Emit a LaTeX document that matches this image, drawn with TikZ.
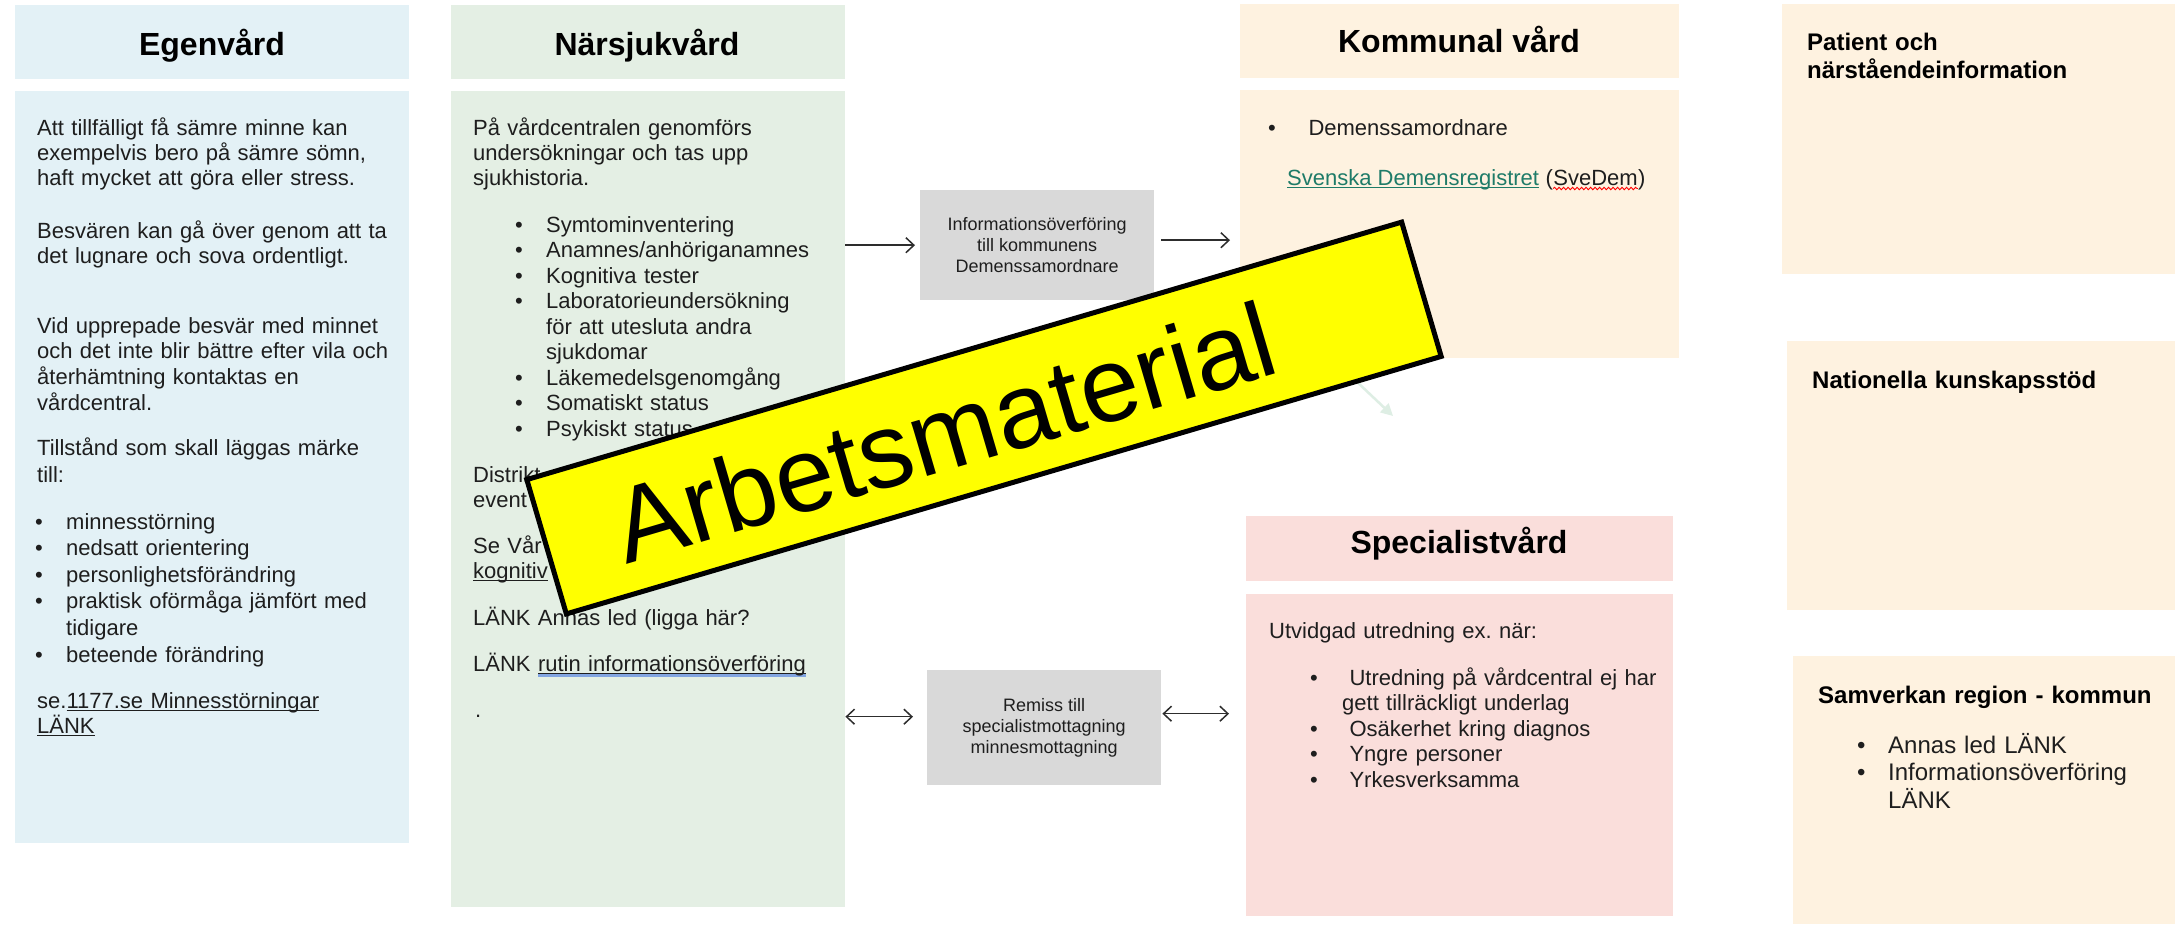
\documentclass[tikz,border=0pt]{standalone}
\usepackage{fontspec}
\setmainfont{Liberation Sans}
\usetikzlibrary{arrows.meta,calc,decorations.pathmorphing}
\definecolor{egfill}{RGB}{227,241,246}
\definecolor{nsfill}{RGB}{228,239,228}
\definecolor{kvfill}{RGB}{254,242,224}
\definecolor{spfill}{RGB}{250,222,219}
\definecolor{grayfill}{RGB}{217,217,217}
\definecolor{txt}{RGB}{30,30,30}
\definecolor{arrcol}{RGB}{45,45,45}
\definecolor{linkgreen}{RGB}{30,123,104}
\definecolor{ulblue}{RGB}{130,165,225}
\definecolor{faintcol}{RGB}{222,238,228}
\definecolor{bannery}{RGB}{255,255,0}
\newcommand\fs[2]{\fontsize{#1}{#2}\selectfont}
\newcommand\myul[2][txt]{\leavevmode\setbox0\hbox{#2}\rlap{\color{#1}\rule[-3pt]{\wd0}{1.3pt}}\box0}
\newcommand\blueul[1]{\leavevmode\setbox0\hbox{#1}\rlap{\color{ulblue}\rule[-5.5pt]{\wd0}{2.6pt}}\rlap{\color{txt}\rule[-3pt]{\wd0}{1.1pt}}\box0}
\newcommand\bl[1][31pt]{\leavevmode\makebox[#1][l]{•}}
\frenchspacing
\begin{document}
\begin{tikzpicture}[x=1pt,y=-1pt,
  panel/.style={draw=none,inner sep=0,anchor=north west},
  title/.style={inner sep=0,anchor=base,text=black,font=\fs{32}{38}\bfseries},
  tx/.style={inner sep=0,text=txt,font=\fs{22}{25}},
  para/.style={inner sep=0,text=txt,anchor=base west,text width=400pt,align=left},
  grayt/.style={panel,fill=grayfill,align=center,text=txt,font=\fs{18}{21}},
  arr/.style={draw=arrcol,line width=1.5pt,-{Straight Barb[length=8pt,width=15pt]}},
  darr/.style={draw=arrcol,line width=1.5pt,{Straight Barb[length=8pt,width=15pt]}-{Straight Barb[length=8pt,width=15pt]}}]
\fill[white] (0,0) rectangle (2175,924);
\useasboundingbox (0,0) rectangle (2175,924);

% panels
\node[panel,fill=egfill,minimum width=394,minimum height=74] (egH) at (15,5) {};
\node[panel,fill=egfill,minimum width=394,minimum height=752] (egB) at (15,91) {};
\node[panel,fill=nsfill,minimum width=394,minimum height=74] (nsH) at (451,5) {};
\node[panel,fill=nsfill,minimum width=394,minimum height=816] (nsB) at (451,91) {};
\node[panel,fill=kvfill,minimum width=439,minimum height=74] (kvH) at (1240,4) {};
\node[panel,fill=kvfill,minimum width=439,minimum height=268] (kvB) at (1240,90) {};
\node[panel,fill=spfill,minimum width=427,minimum height=65] (spH) at (1246,516) {};
\node[panel,fill=spfill,minimum width=427,minimum height=322] (spB) at (1246,594) {};
\node[panel,fill=kvfill,minimum width=393,minimum height=270] (pat) at (1782,4) {};
\node[panel,fill=kvfill,minimum width=388,minimum height=269] (nat) at (1787,341) {};
\node[panel,fill=kvfill,minimum width=382,minimum height=268] (sam) at (1793,656) {};
\node[grayt,minimum width=234,minimum height=110] (g1) at (920,190) {Informationsöverföring\\till kommunens\\Demenssamordnare};
\node[grayt,minimum width=234,minimum height=115] (g2) at (927,670) {Remiss till\\specialistmottagning\\minnesmottagning};

% titles
\node[title] (egT) at (212,55) {Egenvård};
\node[title] (nsT) at (647,55) {Närsjukvård};
\node[title] (kvT) at (1459,52) {Kommunal vård};
\node[title] (spT) at (1459,553) {Specialistvård};

% Egenvard text
\node[para,font=\fs{22}{25}] (eg1) at (37,135) {Att tillfälligt få sämre minne kan\\exempelvis bero på sämre sömn,\\haft mycket att göra eller stress.};
\node[para,font=\fs{22}{25}] (eg2) at (37,238) {Besvären kan gå över genom att ta\\det lugnare och sova ordentligt.};
\node[para,font=\fs{22}{25.7}] (eg3) at (37,333) {Vid upprepade besvär med minnet\\och det inte blir bättre efter vila och\\återhämtning kontaktas en\\vårdcentral.};
\node[para,font=\fs{22}{27}] (eg4) at (37,455) {Tillstånd som skall läggas märke\\till:};
\node[para,font=\fs{22}{26.6}] (eg5) at (35,529) {\bl minnesstörning\\\bl nedsatt orientering\\\bl personlighetsförändring\\\bl \makebox[316pt][s]{praktisk oförmåga jämfört med}\\\hspace*{31pt}tidigare\\\bl beteende förändring};
\node[para,font=\fs{22}{25}] (eg6) at (37,708) {se.\myul{1177.se Minnesstörningar}\\\myul{LÄNK}};

% Narsjukvard text
\node[para,font=\fs{22}{25}] (ns1) at (473,135) {På vårdcentralen genomförs\\undersökningar och tas upp\\sjukhistoria.};
\node[para,font=\fs{22}{25.5}] (ns2) at (515,232) {\bl Symtominventering\\\bl Anamnes/anhöriganamnes\\\bl Kognitiva tester\\\bl Laboratorieundersökning\\\hspace*{31pt}för att utesluta andra\\\hspace*{31pt}sjukdomar\\\bl Läkemedelsgenomgång\\\bl Somatiskt status\\\bl Psykiskt status};
\node[para,font=\fs{22}{25}] (ns3) at (473,482) {Distrikt\\event};
\node[para,font=\fs{22}{25}] (ns4) at (473,553) {Se Vår\\\myul{kognitiv}};
\node[para,font=\fs{22}{25}] (ns5) at (473,625) {LÄNK Annas led (ligga här?};
\node[para,font=\fs{22}{25}] (ns6) at (473,671) {LÄNK \blueul{rutin informationsöverföring}};
\node[para,font=\fs{22}{25}] (ns7) at (475,717) {.};

% Kommunal text
\node[para,font=\fs{22}{25}] (kv1) at (1268,135) {\bl[33pt] Demenssamordnare};
\node[tx,anchor=base west] (svd) at (1287,185) {\myul[linkgreen]{\color{linkgreen}Svenska Demensregistret}};
\node[tx,anchor=base west] (svp) at (svd.base east) {\ (};
\node[tx,anchor=base west] (svdem) at (svp.base east) {SveDem};
\node[tx,anchor=base west] (svc) at (svdem.base east) {)};
\draw[red,line width=0.9pt,decorate,decoration={snake,amplitude=1.2pt,segment length=4.5pt}]
  ($(svdem.base west)+(0,3.5)$) -- ($(svdem.base east)+(0,3.5)$);

% Specialist text
\node[para,font=\fs{22}{25}] (sp1) at (1269,638) {Utvidgad utredning ex.\ när:};
\node[para,font=\fs{22}{25.5}] (sp2) at (1310,685) {\bl[32pt] Utredning på vårdcentral ej har\\\hspace*{32pt}gett tillräckligt underlag\\\bl[32pt] Osäkerhet kring diagnos\\\bl[32pt] Yngre personer\\\bl[32pt] Yrkesverksamma};

% right column
\node[para,text width=360pt,text=black,font=\fs{24}{28}\bfseries] (patT) at (1807,50) {Patient och\\närståendeinformation};
\node[para,text width=360pt,text=black,font=\fs{24}{28}\bfseries] (natT) at (1812,388) {Nationella kunskapsstöd};
\node[para,text width=360pt,text=black,font=\fs{24}{28}\bfseries] (samT) at (1818,703) {Samverkan region - kommun};
\node[para,text width=320pt,font=\fs{24}{27.5}] (sam2) at (1857,753) {\bl Annas led LÄNK\\\bl Informationsöverföring\\\hspace*{31pt}LÄNK};

% connectors
\draw[arr,shorten >=5pt] (nsB.east |- g1.west) -- (g1.west);
\coordinate (a2s) at ($(g1.east)+(7,-5)$);
\draw[arr,shorten >=10pt] (a2s) -- (a2s -| kvB.west);
\coordinate (d1e) at ($(g2.west)+(-14,-11)$);
\draw[darr] (d1e -| nsB.east) -- (d1e);
\coordinate (d2s) at ($(g2.east)+(1,-14)$);
\draw[darr,shorten >=17pt] (d2s) -- (d2s -| spB.west);
\coordinate (fa1) at (1355,380);
\coordinate (fa2) at (1393,416);
\draw[draw=faintcol,line width=2.5pt,-{Triangle[length=12pt,width=12pt]}] (fa1) -- (fa2);

% banner
\node[draw=black,line width=5pt,fill=bannery,minimum width=912,minimum height=140,inner sep=0,rotate=16.4] (banner) at (984,418) {};
\node[rotate=16.4,inner sep=0,text=black,font=\fs{106}{120}] (bannertext) at (944,432) {Arbetsmaterial};
\end{tikzpicture}
\end{document}
